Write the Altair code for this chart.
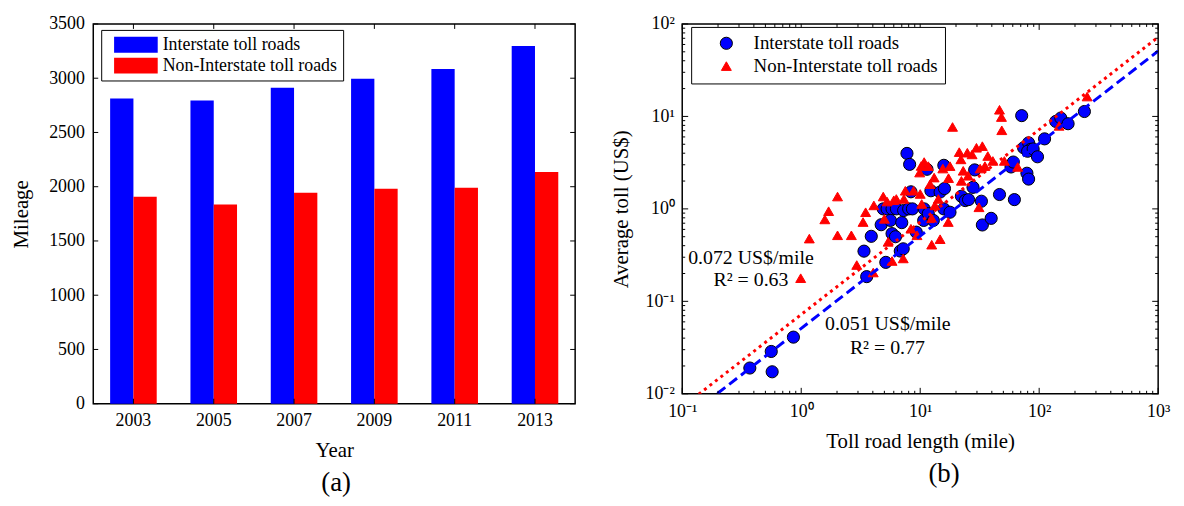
import altair as alt
import pandas as pd

FONT = "Liberation Serif"

# ---------------- data: panel (a) ----------------
years = ["2003", "2005", "2007", "2009", "2011", "2013"]
interstate_miles = [2812, 2794, 2912, 2995, 3086, 3296]
non_interstate_miles = [1908, 1835, 1945, 1981, 1990, 2136]
series = ["Interstate toll roads", "Non-Interstate toll roads"]
colors = ["#0000ff", "#ff0000"]
mileage_ticks = [0, 500, 1000, 1500, 2000, 2500, 3000, 3500]

# ---------------- data: panel (b) ----------------
inter_len = [0.37, 0.56, 0.57, 0.86, 3.55, 3.37, 3.88, 5.14, 4.7,
             4.89, 5.27, 5.8, 6.31, 7.26, 8.0, 8.6, 5.62, 5.8, 6.2, 7.0, 6.8, 7.2,
             7.74, 8.15, 8.36, 9.27, 10.7, 11.4, 10.8, 11.7, 12.9, 12.3,
             14.7, 16, 15.8, 15.8, 17.8, 22.2, 23.9, 25.5, 27.8, 28.7,
             32.7, 33.3, 39.5, 46.4, 61.9, 58, 60.6, 71.3, 74, 81.5,
             84.6, 80, 89, 96.8, 78.9, 81.5, 111, 138, 152, 175, 240]
inter_toll = [0.019, 0.0287, 0.0173, 0.041, 0.185, 0.349, 0.505, 0.264, 0.674,
              1.0, 1.0, 1.0, 1.0, 0.96, 1.0, 1.0, 0.75, 0.54, 0.5, 0.71, 0.35, 0.37,
              3.98, 3.03, 1.53, 0.56, 0.75, 2.68, 1.0, 0.89, 0.75, 1.57,
              1.52, 1.66, 2.96, 1.0, 0.92, 1.37, 1.23, 1.26, 1.71, 2.64,
              1.21, 0.67, 0.79, 1.43, 1.26, 2.84, 3.21, 10.2, 4.58, 5.18,
              4.4, 4.2, 4.45, 3.66, 2.43, 2.1, 5.72, 8.83, 9.6, 8.34, 11.3]
non_len = [0.99, 1.17, 1.58, 1.70, 2.02, 2.02, 2.64, 2.93, 3.31, 3.48,
           4.08, 4.89, 5.0, 5.27, 6.0, 6.3, 5.38, 5.8, 4.03, 7.3,
           7.5, 7.2, 8.36, 8.8, 9.4, 10, 9.9, 10.2, 10.8, 11.7,
           10.3, 12.1, 13.1, 13.3, 12.5, 12.5, 14.7, 14.2, 15.5, 17.2,
           17.3, 17.8, 18.7, 21.3, 22, 22.2, 23, 24.9, 25.3, 27.3,
           29.7, 33.3, 31.9, 35.0, 31.2, 37, 40.8, 46.4, 48.2, 48.5,
           51, 66, 147, 253]
non_toll = [0.178, 0.477, 0.769, 0.944, 1.36, 0.518, 0.518, 0.247, 0.72, 0.92,
            1.09, 1.36, 0.78, 1.2, 1.24, 1.28, 0.44, 0.273, 0.205, 1.28,
            1.57, 0.291, 0.61, 1.57, 0.518, 1.45, 2.47, 2.91, 3.21, 2.9,
            1.13, 1.85, 2.18, 1.09, 0.79, 0.41, 0.47, 1.28, 2.73, 0.72,
            2.15, 2.9, 7.69, 4.11, 3.43, 2.01, 2.58, 4.05, 2.28, 3.88,
            4.58, 4.77, 2.73, 2.9, 1.04, 3.73, 3.3, 11.8, 9.84, 7.08,
            3.3, 2.84, 7.9, 16.4]
fit_slopes = [0.051, 0.072]          # US$/mile, lines through origin
fit_x = [0.1, 1000]
ann_text = ["0.072 US$/mile", "R\u00b2 = 0.63", "0.051 US$/mile", "R\u00b2 = 0.77"]
ann_len = [0.378, 0.378, 5.34, 5.3]
ann_toll = [0.296, 0.168, 0.0571, 0.0316]
x_major = [0.1, 1, 10, 100, 1000]
y_major = [0.01, 0.1, 1, 10, 100]
x_minor = [k * 10.0 ** e for e in range(-1, 3) for k in range(2, 10)]
y_minor = [k * 10.0 ** e for e in range(-2, 2) for k in range(2, 10)]

# ---------------- panel (a) ----------------
W1, H1, TL = 486, 383, 5
bar_df = pd.DataFrame({
    "Year": years * 2,
    "Series": [series[0]] * len(years) + [series[1]] * len(years),
    "Mileage": interstate_miles + non_interstate_miles,
})
xband = alt.Scale(domain=years, paddingInner=0.42, paddingOuter=0.21)
yscale1 = alt.Scale(domain=[0, 3500], nice=False)
x_axis_a = alt.Axis(title="Year", labelAngle=0, ticks=False, domain=False, grid=False,
                    labelPadding=8, titlePadding=10)
y_axis_a = alt.Axis(values=mileage_ticks, format="d", title="Mileage", ticks=False, domain=False,
                    grid=False, labelPadding=9, titlePadding=17)

bars = alt.Chart(bar_df).mark_bar().encode(
    x=alt.X("Year:N", scale=xband, sort=years, axis=x_axis_a),
    xOffset=alt.XOffset("Series:N", scale=alt.Scale(domain=series)),
    y=alt.Y("Mileage:Q", scale=yscale1, axis=y_axis_a),
    color=alt.Color("Series:N", scale=alt.Scale(domain=series, range=colors),
                    legend=alt.Legend(title=None, orient="none", legendX=8, legendY=6,
                                      symbolType="M-2.75,-1H2.75V1H-2.75Z", symbolSize=256,
                                      symbolStrokeWidth=0, symbolOffset=20,
                                      labelFont=FONT, labelFontSize=18,
                                      labelOffset=18, padding=6, rowPadding=3, labelLimit=400,
                                      strokeColor="black", fillColor="white")),
)

yr_df = pd.DataFrame({"Year": years})
mt_df = pd.DataFrame({"Mileage": mileage_ticks})
tick_bottom = alt.Chart(yr_df).mark_rule(color="black").encode(
    x=alt.X("Year:N", scale=xband, sort=years, axis=x_axis_a), y=alt.value(H1), y2=alt.value(H1 - TL))
tick_top = alt.Chart(yr_df).mark_rule(color="black").encode(
    x=alt.X("Year:N", scale=xband, sort=years, axis=x_axis_a), y=alt.value(0), y2=alt.value(TL))
tick_left = alt.Chart(mt_df).mark_rule(color="black").encode(
    y=alt.Y("Mileage:Q", scale=yscale1, axis=y_axis_a), x=alt.value(0), x2=alt.value(TL))
tick_right = alt.Chart(mt_df).mark_rule(color="black").encode(
    y=alt.Y("Mileage:Q", scale=yscale1, axis=y_axis_a), x=alt.value(W1), x2=alt.value(W1 - TL))

panel_a = alt.layer(bars, tick_bottom, tick_top, tick_left, tick_right).properties(
    width=W1, height=H1,
    title=alt.TitleParams("(a)", orient="bottom", font=FONT, fontSize=27,
                          fontWeight="normal", frame="group", offset=10, dx=2),
)

# ---------------- panel (b) ----------------
W2, H2 = 480, 373
xlog = alt.Scale(type="log", domain=[0.1, 1000], nice=False)
ylog = alt.Scale(type="log", domain=[0.01, 100], nice=False)
EXP = "round(log(datum.value)/LN10)"
sup_expr = ("'10' + ({e} == -2 ? '\u207b\u00b2' : {e} == -1 ? '\u207b\u00b9' : {e} == 0 ? '\u2070' : "
            "{e} == 1 ? '\u00b9' : {e} == 2 ? '\u00b2' : '\u00b3')").format(e=EXP)
x_axis_b = alt.Axis(values=x_major, title="Toll road length (mile)", labelExpr=sup_expr,
                    ticks=False, domain=False, grid=False, labelFlush=False,
                    labelOverlap=False, labelPadding=9, titlePadding=10)
y_axis_b = alt.Axis(values=y_major, title="Average toll (US$)", labelExpr=sup_expr,
                    ticks=False, domain=False, grid=False, labelFlush=False,
                    labelOverlap=False, labelPadding=8, titlePadding=14)

pts_df = pd.DataFrame({
    "Length": inter_len + non_len,
    "Toll": inter_toll + non_toll,
    "Type": [series[0]] * len(inter_len) + [series[1]] * len(non_len),
})
leg_b = alt.Legend(title=None, orient="none", legendX=9, legendY=3, labelFont=FONT,
                   labelFontSize=19, labelOffset=18, symbolOffset=19, padding=7, rowPadding=3,
                   labelLimit=400, strokeColor="black", fillColor="white", symbolStrokeWidth=1)
points = alt.Chart(pts_df).mark_point(filled=True, opacity=1, strokeWidth=1).encode(
    x=alt.X("Length:Q", scale=xlog, axis=x_axis_b),
    y=alt.Y("Toll:Q", scale=ylog, axis=y_axis_b),
    color=alt.Color("Type:N", scale=alt.Scale(domain=series, range=colors), legend=leg_b),
    shape=alt.Shape("Type:N", scale=alt.Scale(domain=series, range=["circle", "triangle-up"]),
                    legend=leg_b),
    stroke=alt.Stroke("Type:N", scale=alt.Scale(domain=series, range=["black", "#ff0000"]),
                      legend=leg_b),
    size=alt.Size("Type:N", scale=alt.Scale(domain=series, range=[150, 100]), legend=leg_b),
)

fit_df = pd.DataFrame({"Length": fit_x, "Toll": [fit_slopes[0] * v for v in fit_x]})
fit_df2 = pd.DataFrame({"Length": fit_x, "Toll": [fit_slopes[1] * v for v in fit_x]})
line_blue = alt.Chart(fit_df).mark_line(clip=True, color="#0000ff", strokeWidth=3,
                                        strokeDash=[10, 5]).encode(
    x=alt.X("Length:Q", scale=xlog, axis=x_axis_b), y=alt.Y("Toll:Q", scale=ylog, axis=y_axis_b))
line_red = alt.Chart(fit_df2).mark_line(clip=True, color="#ff0000", strokeWidth=3,
                                        strokeDash=[3, 4]).encode(
    x=alt.X("Length:Q", scale=xlog, axis=x_axis_b), y=alt.Y("Toll:Q", scale=ylog, axis=y_axis_b))

ann_df = pd.DataFrame({"Length": ann_len, "Toll": ann_toll, "label": ann_text})
annots = alt.Chart(ann_df).mark_text(font=FONT, fontSize=20, align="center",
                                     baseline="middle", color="black").encode(
    x=alt.X("Length:Q", scale=xlog, axis=x_axis_b), y=alt.Y("Toll:Q", scale=ylog, axis=y_axis_b),
    text="label:N")


def xticks(vals, length):
    d = pd.DataFrame({"Length": vals})
    b = alt.Chart(d).mark_rule(color="black").encode(
        x=alt.X("Length:Q", scale=xlog, axis=x_axis_b), y=alt.value(H2), y2=alt.value(H2 - length))
    t = alt.Chart(d).mark_rule(color="black").encode(
        x=alt.X("Length:Q", scale=xlog, axis=x_axis_b), y=alt.value(0), y2=alt.value(length))
    return [b, t]


def yticks(vals, length):
    d = pd.DataFrame({"Toll": vals})
    l = alt.Chart(d).mark_rule(color="black").encode(
        y=alt.Y("Toll:Q", scale=ylog, axis=y_axis_b), x=alt.value(0), x2=alt.value(length))
    r = alt.Chart(d).mark_rule(color="black").encode(
        y=alt.Y("Toll:Q", scale=ylog, axis=y_axis_b), x=alt.value(W2), x2=alt.value(W2 - length))
    return [l, r]


tick_layers = xticks(x_major, 6) + xticks(x_minor, 3) + yticks(y_major, 6) + yticks(y_minor, 3)

panel_b = alt.layer(points, line_red, line_blue, annots, *tick_layers).properties(
    width=W2, height=H2,
    title=alt.TitleParams("(b)", orient="bottom", font=FONT, fontSize=27,
                          fontWeight="normal", frame="group", offset=10, dx=24),
)

chart = alt.hconcat(panel_a, panel_b, spacing=108, bounds="flush").resolve_scale(
    color="independent", shape="independent", stroke="independent", size="independent"
).resolve_legend(
    color="independent", shape="independent", stroke="independent", size="independent"
).properties(
    padding={"left": 2, "top": 4, "right": 5, "bottom": 0}
).configure_view(stroke="black", strokeWidth=1.5).configure_axis(
    labelFont=FONT, titleFont=FONT, labelFontSize=18, titleFontSize=21,
    titleFontWeight="normal", labelColor="black", titleColor="black"
).configure_legend(labelColor="black")

chart.save("out.html", embed_options={"renderer": "svg", "actions": False})
